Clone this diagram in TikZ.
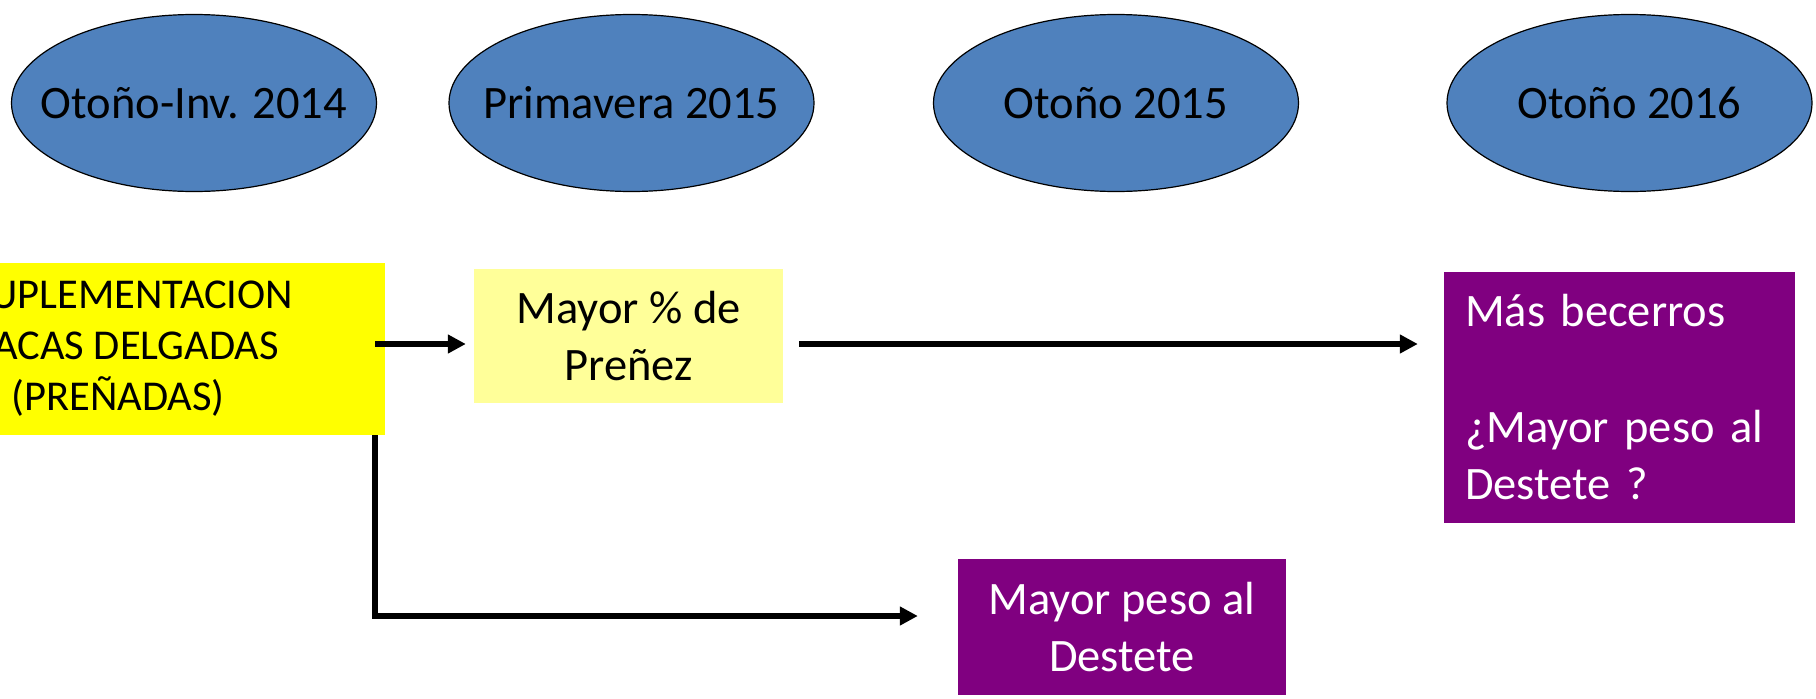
\documentclass[tikz,border=0pt]{standalone}
\usepackage{fontspec}
\setmainfont{Carlito}
\usetikzlibrary{positioning, arrows.meta, shapes.geometric}
\definecolor{seasonblue}{HTML}{4F81BD}
\definecolor{supyellow}{HTML}{FFFF00}
\definecolor{paleyellow}{HTML}{FFFF99}
\definecolor{resultpurple}{HTML}{800080}
\newcommand{\seasonlabel}[1]{\makebox[0pt]{#1}}

\begin{document}
\begin{tikzpicture}[x=1pt, y=-1pt, >={Triangle[length=18pt,width=18pt]},
    font=\fontsize{46.5}{56.5}\selectfont,
    season/.style={ellipse, draw, line width=1.2pt, fill=seasonblue,
      minimum width=365pt, minimum height=177pt, inner sep=0pt},
    result/.style={fill=resultpurple, text=white, inner sep=0pt},
    flow/.style={->, line width=6pt}]
  \useasboundingbox (0,0) rectangle (1816,699);
  % seasons
  \node[season] (oi14) at (194,103) {\seasonlabel{Otoño-Inv. 2014}};
  \node[season] (pr15) at (631.5,103) {\seasonlabel{Primavera 2015}};
  \node[season] (ot15) at (1116,103) {\seasonlabel{Otoño 2015}};
  \node[season] (ot16) at (1629.5,103) {\seasonlabel{Otoño 2016}};
  % boxes
  \node[fill=supyellow, minimum width=520pt, minimum height=172pt, align=center,
    font=\fontsize{42.5}{51}\selectfont] (sup) at (125,349)
    {\hspace*{14pt}SUPLEMENTACION\\VACAS DELGADAS\\(PREÑADAS)\hspace*{14pt}};
  \node[fill=paleyellow, minimum width=309pt, minimum height=134pt, inner sep=0pt,
    align=center] (pre) at (628.5,336) {Mayor \% de\\Preñez};
  \node[result, minimum width=351pt, minimum height=251pt, text width=309pt,
    align=left, font=\fontsize{46.5}{57}\selectfont] (more) at (1619.5,397.5)
    {Más becerros\\[59pt]¿Mayor peso al\\Destete ?};
  \node[result, minimum width=328pt, minimum height=136pt, align=center] (wean)
    at (1122,627) {Mayor peso al\\Destete};
  % arrows
  \coordinate (row) at (0,344);
  \draw[flow] ([xshift=-10pt]sup.east |- row) -- ([xshift=-8pt]pre.west |- row);
  \draw[flow] ([xshift=16pt]pre.east |- row) -- ([xshift=-26pt]more.west |- row);
  \draw[flow] ([xshift=-10pt]sup.south east) |- ([xshift=-40pt,yshift=11pt]wean.west);
\end{tikzpicture}
\end{document}
